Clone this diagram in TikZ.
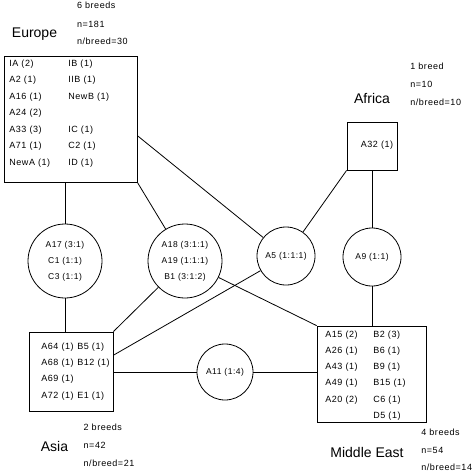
\documentclass[tikz,border=0pt]{standalone}
\usepackage{fontspec}
\setmainfont{Liberation Sans}[LetterSpace=6.0]
\newfontfamily\regionfont{Liberation Sans}
\usepackage{tikz}
\usetikzlibrary{calc}

\begin{document}
\begin{tikzpicture}[x=1pt, y=-1pt, line width=0.8pt,
  regbox/.style={draw, rectangle, inner sep=0pt},
  blob/.style={draw, circle, inner sep=0pt, align=center, font=\fontsize{8.5}{16}\selectfont},
  cell/.style={inner sep=0pt, anchor=west, font=\fontsize{9}{11}\selectfont},
  stat/.style={inner sep=0pt, anchor=base west, font=\fontsize{9}{11}\selectfont},
  region/.style={inner sep=0pt, anchor=base, font=\regionfont\fontsize{14}{16}\selectfont}]
\useasboundingbox (0,0) rectangle (475,476);
% Europe
\node[region] (eulab) at (34.5,37.3) {Europe};
\node[stat] (eus1) at (76.7,9) {6 breeds};
\node[stat] (eus2) at (76.7,27.3) {n=181};
\node[stat] (eus3) at (76.7,45) {n/breed=30};
\node[regbox, minimum width=133pt, minimum height=126pt] (eu) at (70.5,119) {};
\node[cell] (eu1) at (9,64.0) {\makebox[59pt][l]{IA (2)}IB (1)};
\node[cell] (eu2) at (9,80.4) {\makebox[59pt][l]{A2 (1)}IIB (1)};
\node[cell] (eu3) at (9,96.9) {\makebox[59pt][l]{A16 (1)}NewB (1)};
\node[cell] (eu4) at (9,113.3) {A24 (2)};
\node[cell] (eu5) at (9,129.8) {\makebox[59pt][l]{A33 (3)}IC (1)};
\node[cell] (eu6) at (9,146.2) {\makebox[59pt][l]{A71 (1)}C2 (1)};
\node[cell] (eu7) at (9,162.7) {\makebox[59pt][l]{NewA (1)}ID (1)};
% Africa
\node[region] (aflab) at (372,103.3) {Africa};
\node[stat] (afs1) at (410,69.3) {1 breed};
\node[stat] (afs2) at (410,87.3) {n=10};
\node[stat] (afs3) at (410,105.7) {n/breed=10};
\node[regbox, minimum width=50pt, minimum height=48pt] (af) at (372,146) {};
\node[cell, anchor=center] (af1) at (377,145) {A32 (1)};
% Asia
\node[regbox, minimum width=84pt, minimum height=79pt] (as) at (71,371.5) {};
\node[cell] (as1) at (41,347.0) {\makebox[36pt][l]{A64 (1)}B5 (1)};
\node[cell] (as2) at (41,363.3) {\makebox[36pt][l]{A68 (1)}B12 (1)};
\node[cell] (as3) at (41,379.6) {A69 (1)};
\node[cell] (as4) at (41,395.9) {\makebox[36pt][l]{A72 (1)}E1 (1)};
\node[region] (aslab) at (54.5,451.7) {Asia};
\node[stat] (ass1) at (83.3,430) {2 breeds};
\node[stat] (ass2) at (83.3,448.3) {n=42};
\node[stat] (ass3) at (83.3,466) {n/breed=21};
% Middle East
\node[regbox, minimum width=109pt, minimum height=96pt] (me) at (371.5,374) {};
\node[cell] (me1) at (325,335.0) {\makebox[48pt][l]{A15 (2)}B2 (3)};
\node[cell] (me2) at (325,351.2) {\makebox[48pt][l]{A26 (1)}B6 (1)};
\node[cell] (me3) at (325,367.4) {\makebox[48pt][l]{A43 (1)}B9 (1)};
\node[cell] (me4) at (325,383.6) {\makebox[48pt][l]{A49 (1)}B15 (1)};
\node[cell] (me5) at (325,399.8) {\makebox[48pt][l]{A20 (2)}C6 (1)};
\node[cell] (me6) at (325,416.0) {\makebox[48pt][l]{}D5 (1)};
\node[region] (melab) at (367,457.3) {Middle East};
\node[stat] (mes1) at (421,435.7) {4 breeds};
\node[stat] (mes2) at (421,453.3) {n=54};
\node[stat] (mes3) at (421,470) {n/breed=14};
% shared haplotypes
\node[blob, minimum size=74pt] (a17) at (65,261) {A17 (3:1)\\C1 (1:1)\\C3 (1:1)};
\node[blob, minimum size=74pt] (a18) at (185,261) {A18 (3:1:1)\\A19 (1:1:1)\\B1 (3:1:2)};
\node[blob, minimum size=58pt] (a5) at (286,256) {A5 (1:1:1)};
\node[blob, minimum size=58pt] (a9) at (372,257) {A9 (1:1)};
\node[blob, minimum size=56pt] (a11) at (225,372) {A11 (1:4)};
% links
\draw (a17) -- (a17 |- eu.south);
\draw (a17) -- (a17 |- as.north);
\draw (eu.south east) -- (a18);
\draw (eu.-14) -- (a5);
\draw (af.south west) -- (a5);
\draw (af) -- (a9);
\draw (a9) -- (a9 |- me.north);
\draw (as.north east) -- (a18);
\draw (a18) -- (me.north west);
\draw (as.21) -- (a5);
\draw (a11) -- (a11 -| as.east);
\draw (a11) -- (a11 -| me.west);
\end{tikzpicture}
\end{document}
